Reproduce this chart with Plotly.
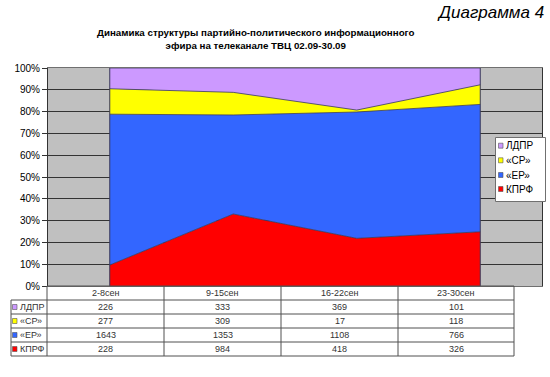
import plotly.graph_objects as go

categories = ["2-8сен", "9-15сен", "16-22сен", "23-30сен"]
series_names = ["КПРФ", "«ЕР»", "«СР»", "ЛДПР"]  # bottom to top
kprf = [228, 984, 418, 326]
er = [1643, 1353, 1108, 766]
sr = [277, 309, 17, 118]
ldpr = [226, 333, 369, 101]
series_values = [kprf, er, sr, ldpr]
colors = ["#FF0000", "#3366FF", "#FFFF00", "#CC99FF"]
y_ticks = [0, 10, 20, 30, 40, 50, 60, 70, 80, 90, 100]
y_tick_labels = [f"{v}%" for v in y_ticks]

W, H = 550, 377
L, R, T, B = 48, 8, 68, 91  # plot area 48..542, 68..286
pw = W - L - R
ph = H - T - B

def px(x):
    return (x - L) / pw

def py(y):
    return (H - B - y) / ph

FONT = "Liberation Sans, Arial, sans-serif"
fig = go.Figure()

xi = list(range(len(categories)))
for name, vals, col in zip(series_names, series_values, colors):
    fig.add_trace(go.Scatter(
        x=xi, y=vals, name=name, stackgroup="one", groupnorm="percent",
        mode="lines", line=dict(color="#3a3a5a", width=0.8),
        fillcolor=col, showlegend=False, hoverinfo="skip",
    ))

shapes = []
for xv in (xi[0], xi[-1]):
    shapes.append(dict(type="line", xref="x", yref="y", x0=xv, x1=xv, y0=0, y1=100,
                       line=dict(color="#3a3a5a", width=1), layer="above"))

# data table
col_edges = [47, 164, 281, 398, 514]
row_edges = [286, 300, 314, 328, 342, 356]
tcol = "#505050"
shapes.append(dict(type="line", xref="paper", yref="paper", x0=px(47), x1=px(514),
                   y0=py(row_edges[0]), y1=py(row_edges[0]), line=dict(color=tcol, width=1)))
for ry in row_edges[1:]:
    shapes.append(dict(type="line", xref="paper", yref="paper", x0=px(11), x1=px(514),
                       y0=py(ry), y1=py(ry), line=dict(color=tcol, width=1)))
shapes.append(dict(type="line", xref="paper", yref="paper", x0=px(11), x1=px(11),
                   y0=py(row_edges[1]), y1=py(row_edges[-1]), line=dict(color=tcol, width=1)))
for cx in col_edges:
    shapes.append(dict(type="line", xref="paper", yref="paper", x0=px(cx), x1=px(cx),
                       y0=py(row_edges[0]), y1=py(row_edges[-1]), line=dict(color=tcol, width=1)))

annotations = []

def txt(x, y, s, size=9, color="#333333", xanchor="center"):
    annotations.append(dict(x=px(x), y=py(y), xref="paper", yref="paper", text=s,
                            xanchor=xanchor, yanchor="middle", showarrow=False,
                            font=dict(family=FONT, size=size, color=color)))

for i, cat in enumerate(categories):
    cx = (col_edges[i] + col_edges[i + 1]) / 2
    txt(cx, (row_edges[0] + row_edges[1]) / 2, cat)

table_order = [3, 2, 1, 0]  # ЛДПР, СР, ЕР, КПРФ
for r, si in enumerate(table_order):
    ymid = (row_edges[r + 1] + row_edges[r + 2]) / 2
    shapes.append(dict(type="rect", xref="paper", yref="paper", x0=px(12.5), x1=px(17),
                       y0=py(ymid - 2.5), y1=py(ymid + 2.5), fillcolor=colors[si],
                       line=dict(color="#555555", width=0.6)))
    txt(17.5, ymid, series_names[si], xanchor="left")
    for i, v in enumerate(series_values[si]):
        cx = (col_edges[i] + col_edges[i + 1]) / 2
        txt(cx, ymid, str(v))

# legend
shapes.append(dict(type="rect", xref="paper", yref="paper", x0=px(495.5), x1=px(545.5),
                   y0=py(201.5), y1=py(137.5), fillcolor="white", line=dict(color="#707070", width=1),
                   layer="above"))
leg_y = [145.7, 160.3, 175, 189]
for k, si in enumerate(table_order):
    yy = leg_y[k]
    shapes.append(dict(type="rect", xref="paper", yref="paper", x0=px(498.5), x1=px(503),
                       y0=py(yy - 2.5), y1=py(yy + 2.5), fillcolor=colors[si],
                       line=dict(color="#555555", width=0.6), layer="above"))
    txt(503.5, yy, series_names[si], size=10, color="black", xanchor="left")

# titles
txt(546, 12, "<i>Диаграмма 4</i>", size=17, color="black", xanchor="right")
annotations.append(dict(x=px(256), y=py(38.5), xref="paper", yref="paper",
                        xanchor="center", yanchor="middle",
                        text="<b>Динамика структуры партийно-политического информационного<br>эфира на телеканале ТВЦ 02.09-30.09</b>",
                        showarrow=False, align="center",
                        font=dict(family=FONT, size=9.75, color="black")))

fig.update_layout(
    width=W, height=H, margin=dict(l=L, r=R, t=T, b=B, autoexpand=False),
    paper_bgcolor="white", plot_bgcolor="#C0C0C0",
    shapes=shapes, annotations=annotations, showlegend=False,
    xaxis=dict(range=[-0.5, len(categories) - 0.5], showticklabels=False, showgrid=False,
               zeroline=False, showline=True, linecolor="#707070", mirror=True, ticks="",
               automargin=False),
    yaxis=dict(range=[0, 100], tickvals=y_ticks, ticktext=y_tick_labels, showgrid=True,
               gridcolor="#333333", gridwidth=1, zeroline=False, showline=True,
               linecolor="#333333", mirror=True, ticks="outside", ticklen=5, tickcolor="#333333",
               tickfont=dict(family=FONT, size=10, color="black"), automargin=False),
)

fig.write_html("out.html", config={"displayModeBar": False},
               post_script="document.body.style.margin='0';document.body.style.overflow='hidden';")
